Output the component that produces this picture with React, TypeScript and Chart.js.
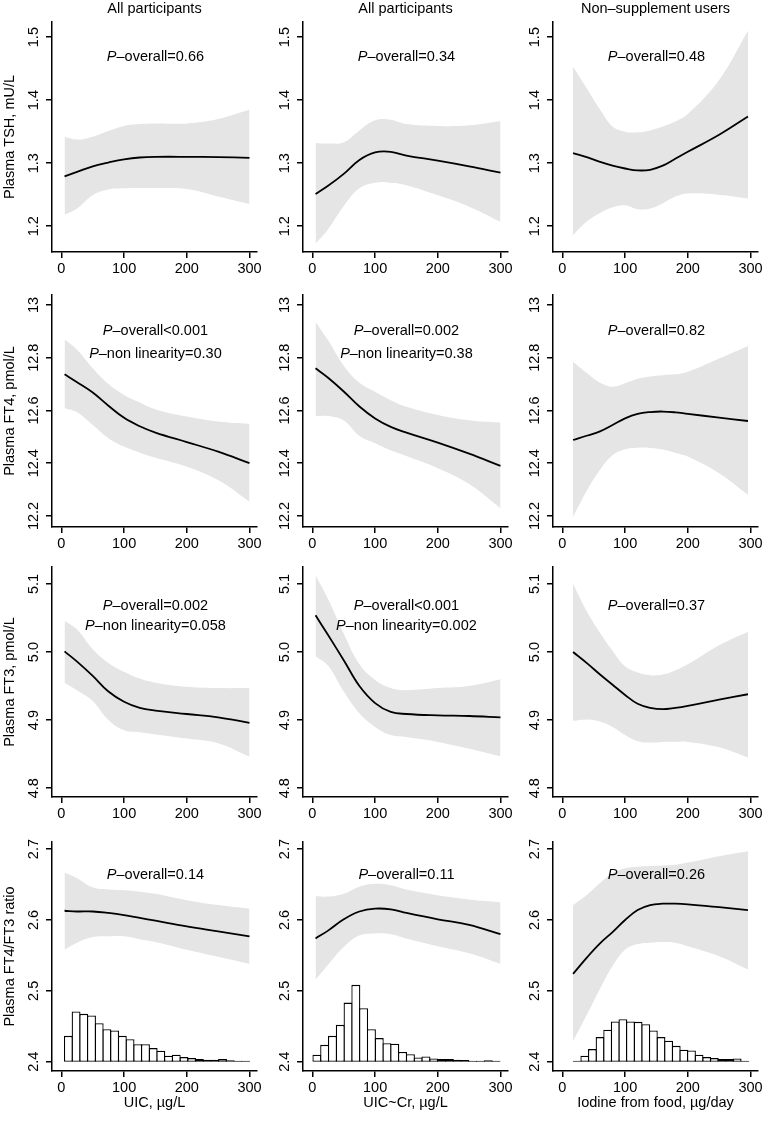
import React, { useEffect, useRef } from 'react';
import { Chart, registerables } from 'chart.js';

Chart.register(...registerables);

const FONT_FAMILY = '"Liberation Sans", Arial, Helvetica, sans-serif';
const FONT_SIZE = 14.5;

// ---------- text ----------
const COLUMN_TITLES = ['All participants', 'All participants', 'Non\u2013supplement users'];
const ROW_TITLES = ['Plasma TSH, mU/L', 'Plasma FT4, pmol/L', 'Plasma FT3, pmol/L', 'Plasma FT4/FT3 ratio'];
const X_TITLES = ['UIC, \u00b5g/L', 'UIC~Cr, \u00b5g/L', 'Iodine from food, \u00b5g/day'];

// ---------- axes ----------
const X_TICKS = [0, 100, 200, 300];
const X_MIN = -15;
const X_MAX = 312;

const Y_TICKS_TSH = [1.2, 1.3, 1.4, 1.5];
const Y_TICKS_FT4 = [12.2, 12.4, 12.6, 12.8, 13];
const Y_TICKS_FT3 = [4.8, 4.9, 5.0, 5.1];
const Y_TICKS_RATIO = [2.4, 2.5, 2.6, 2.7];
const Y_LABELS_TSH = ['1.2', '1.3', '1.4', '1.5'];
const Y_LABELS_FT4 = ['12.2', '12.4', '12.6', '12.8', '13'];
const Y_LABELS_FT3 = ['4.8', '4.9', '5.0', '5.1'];
const Y_LABELS_RATIO = ['2.4', '2.5', '2.6', '2.7'];
const Y_MIN = [1.159, 12.158, 4.787, 2.387];
const Y_MAX = [1.524, 13.038, 5.125, 2.71];

// ---------- exposure grids ----------
const X_UIC = [5, 25, 50, 75, 100, 125, 150, 200, 250, 300];
const X_FOOD = [17, 40, 60, 80, 100, 120, 140, 160, 180, 200, 250, 296];

// ---------- TSH ----------
const TSH_UIC_FIT = [1.279, 1.286, 1.295, 1.301, 1.306, 1.309, 1.31, 1.31, 1.3095, 1.3085];
const TSH_UIC_UPPER = [1.342, 1.3375, 1.342, 1.351, 1.359, 1.362, 1.363, 1.363, 1.37, 1.385];
const TSH_UIC_LOWER = [1.218, 1.228, 1.249, 1.258, 1.26, 1.2605, 1.2605, 1.259, 1.247, 1.235];

const TSH_UICCR_FIT = [1.251, 1.264, 1.283, 1.305, 1.317, 1.318, 1.312, 1.304, 1.295, 1.285];
const TSH_UICCR_UPPER = [1.332, 1.331, 1.333, 1.352, 1.368, 1.369, 1.362, 1.359, 1.36, 1.367];
const TSH_UICCR_LOWER = [1.172, 1.195, 1.232, 1.26, 1.269, 1.269, 1.265, 1.249, 1.231, 1.207];

const TSH_FOOD_FIT = [1.316, 1.309, 1.302, 1.296, 1.2915, 1.2885, 1.2895, 1.296, 1.307, 1.318, 1.345, 1.374];
const TSH_FOOD_UPPER = [1.453, 1.417, 1.385, 1.358, 1.35, 1.349, 1.352, 1.358, 1.366, 1.378, 1.432, 1.51];
const TSH_FOOD_LOWER = [1.186, 1.208, 1.221, 1.23, 1.233, 1.227, 1.228, 1.236, 1.247, 1.252, 1.25, 1.244];

// ---------- FT4 ----------
const FT4_UIC_FIT = [12.737, 12.707, 12.668, 12.618, 12.572, 12.54, 12.516, 12.48, 12.444, 12.4];
const FT4_UIC_UPPER = [12.87, 12.83, 12.76, 12.7, 12.659, 12.63, 12.604, 12.577, 12.558, 12.549];
const FT4_UIC_LOWER = [12.608, 12.593, 12.545, 12.495, 12.463, 12.44, 12.421, 12.387, 12.336, 12.254];

const FT4_UICCR_FIT = [12.76, 12.724, 12.672, 12.615, 12.57, 12.538, 12.516, 12.478, 12.436, 12.39];
const FT4_UICCR_UPPER = [12.937, 12.866, 12.77, 12.705, 12.671, 12.639, 12.614, 12.583, 12.563, 12.554];
const FT4_UICCR_LOWER = [12.579, 12.579, 12.562, 12.503, 12.476, 12.449, 12.427, 12.381, 12.321, 12.229];

const FT4_FOOD_FIT = [12.488, 12.505, 12.521, 12.545, 12.57, 12.587, 12.594, 12.596, 12.593, 12.587, 12.573, 12.56];
const FT4_FOOD_UPPER = [12.785, 12.74, 12.705, 12.69, 12.703, 12.72, 12.729, 12.734, 12.737, 12.747, 12.797, 12.845];
const FT4_FOOD_LOWER = [12.197, 12.3, 12.375, 12.43, 12.453, 12.459, 12.458, 12.452, 12.44, 12.425, 12.362, 12.28];

// ---------- FT3 ----------
const FT3_UIC_FIT = [5.001, 4.986, 4.965, 4.942, 4.927, 4.918, 4.914, 4.909, 4.904, 4.896];
const FT3_UIC_UPPER = [5.046, 5.033, 5.004, 4.984, 4.971, 4.961, 4.955, 4.949, 4.947, 4.947];
const FT3_UIC_LOWER = [4.955, 4.944, 4.928, 4.9, 4.885, 4.882, 4.879, 4.873, 4.866, 4.846];

const FT3_UICCR_FIT = [5.054, 5.025, 4.988, 4.95, 4.925, 4.912, 4.909, 4.907, 4.906, 4.904];
const FT3_UICCR_UPPER = [5.113, 5.078, 5.027, 4.982, 4.959, 4.947, 4.944, 4.947, 4.95, 4.96];
const FT3_UICCR_LOWER = [4.994, 4.98, 4.942, 4.91, 4.89, 4.878, 4.875, 4.868, 4.858, 4.847];

const FT3_FOOD_FIT = [5.0, 4.983, 4.967, 4.952, 4.937, 4.924, 4.918, 4.916, 4.918, 4.921, 4.93, 4.938];
const FT3_FOOD_UPPER = [5.1, 5.058, 5.028, 5.002, 4.979, 4.97, 4.966, 4.967, 4.973, 4.982, 5.01, 5.03];
const FT3_FOOD_LOWER = [4.899, 4.901, 4.898, 4.89, 4.878, 4.869, 4.867, 4.868, 4.868, 4.868, 4.86, 4.845];

// ---------- FT4/FT3 ratio ----------
const RATIO_UIC_FIT = [2.613, 2.612, 2.612, 2.61, 2.607, 2.603, 2.599, 2.591, 2.584, 2.577];
const RATIO_UIC_UPPER = [2.667, 2.659, 2.646, 2.643, 2.642, 2.64, 2.637, 2.628, 2.621, 2.616];
const RATIO_UIC_LOWER = [2.558, 2.568, 2.576, 2.577, 2.577, 2.573, 2.569, 2.558, 2.548, 2.538];

const RATIO_UICCR_FIT = [2.574, 2.585, 2.601, 2.612, 2.616, 2.615, 2.61, 2.601, 2.593, 2.58];
const RATIO_UICCR_UPPER = [2.634, 2.633, 2.637, 2.647, 2.651, 2.649, 2.643, 2.635, 2.629, 2.625];
const RATIO_UICCR_LOWER = [2.516, 2.537, 2.562, 2.578, 2.581, 2.58, 2.574, 2.563, 2.553, 2.538];

const RATIO_FOOD_FIT = [2.524, 2.548, 2.567, 2.583, 2.6, 2.614, 2.621, 2.623, 2.623, 2.622, 2.618, 2.614];
const RATIO_FOOD_UPPER = [2.621, 2.636, 2.652, 2.666, 2.673, 2.675, 2.676, 2.677, 2.678, 2.681, 2.69, 2.697];
const RATIO_FOOD_LOWER = [2.429, 2.468, 2.503, 2.535, 2.558, 2.566, 2.568, 2.569, 2.568, 2.563, 2.549, 2.53];

// ---------- histograms (bar tops on the ratio axis, base 2.4) ----------
const HIST_BASE = 2.4;
const HIST_UIC_X = [11.1, 23.4, 35.7, 48.0, 60.3, 72.6, 84.9, 97.2, 109.5, 121.8, 134.1, 146.4, 158.6, 170.9, 183.2, 195.5, 207.8, 220.1, 232.4, 244.7, 257.0, 269.3, 281.6, 293.9];
const HIST_UIC = [2.4366, 2.4709, 2.4676, 2.4652, 2.4545, 2.446, 2.4441, 2.4366, 2.4319, 2.4249, 2.4249, 2.4193, 2.4155, 2.4085, 2.4099, 2.4066, 2.4052, 2.4038, 2.403, 2.403, 2.404, 2.402, 2.4015, 2.4015];
const HIST_UICCR_X = [7.2, 19.6, 32.0, 44.5, 56.9, 69.3, 81.7, 94.1, 106.6, 119.0, 131.4, 143.8, 156.3, 168.7, 181.1, 193.5, 205.9, 218.4, 230.8, 243.2, 255.6, 268.1, 280.5, 292.9];
const HIST_UICCR = [2.4099, 2.4239, 2.4366, 2.4521, 2.4835, 2.5085, 2.4756, 2.446, 2.4334, 2.4263, 2.4254, 2.4137, 2.4108, 2.4061, 2.4075, 2.4047, 2.4038, 2.4038, 2.403, 2.4024, 2.4015, 2.4015, 2.402, 2.4015];
const HIST_FOOD_X = [23.6, 35.7, 47.9, 60.0, 72.2, 84.3, 96.5, 108.6, 120.8, 133.0, 145.1, 157.3, 169.4, 181.6, 193.7, 205.9, 218.0, 230.2, 242.3, 254.5, 266.7, 278.8, 291.0];
const HIST_FOOD = [2.4015, 2.4085, 2.4179, 2.4348, 2.4451, 2.4568, 2.4601, 2.4568, 2.4563, 2.4531, 2.4441, 2.4348, 2.4296, 2.4225, 2.4169, 2.416, 2.4099, 2.4066, 2.4052, 2.4038, 2.4038, 2.4047, 2.4015];

// ---------- P-value annotations ----------
const ANNOT_X = 150;
const ANNOT_Y_TSH = [1.468];
const ANNOT_Y_FT4 = [12.9, 12.815];
const ANNOT_Y_FT3 = [5.068, 5.038];
const ANNOT_Y_RATIO = [2.663];
const ANNOT_TSH = [['\u2013overall=0.66'], ['\u2013overall=0.34'], ['\u2013overall=0.48']];
const ANNOT_FT4 = [['\u2013overall<0.001', '\u2013non linearity=0.30'], ['\u2013overall=0.002', '\u2013non linearity=0.38'], ['\u2013overall=0.82']];
const ANNOT_FT3 = [['\u2013overall=0.002', '\u2013non linearity=0.058'], ['\u2013overall<0.001', '\u2013non linearity=0.002'], ['\u2013overall=0.37']];
const ANNOT_RATIO = [['\u2013overall=0.14'], ['\u2013overall=0.11'], ['\u2013overall=0.26']];

// ---------- assembled tables ----------
const X_BY_COL = [X_UIC, X_UIC, X_FOOD];
const FITS = [
  [TSH_UIC_FIT, TSH_UICCR_FIT, TSH_FOOD_FIT],
  [FT4_UIC_FIT, FT4_UICCR_FIT, FT4_FOOD_FIT],
  [FT3_UIC_FIT, FT3_UICCR_FIT, FT3_FOOD_FIT],
  [RATIO_UIC_FIT, RATIO_UICCR_FIT, RATIO_FOOD_FIT],
];
const UPPERS = [
  [TSH_UIC_UPPER, TSH_UICCR_UPPER, TSH_FOOD_UPPER],
  [FT4_UIC_UPPER, FT4_UICCR_UPPER, FT4_FOOD_UPPER],
  [FT3_UIC_UPPER, FT3_UICCR_UPPER, FT3_FOOD_UPPER],
  [RATIO_UIC_UPPER, RATIO_UICCR_UPPER, RATIO_FOOD_UPPER],
];
const LOWERS = [
  [TSH_UIC_LOWER, TSH_UICCR_LOWER, TSH_FOOD_LOWER],
  [FT4_UIC_LOWER, FT4_UICCR_LOWER, FT4_FOOD_LOWER],
  [FT3_UIC_LOWER, FT3_UICCR_LOWER, FT3_FOOD_LOWER],
  [RATIO_UIC_LOWER, RATIO_UICCR_LOWER, RATIO_FOOD_LOWER],
];
const HIST_X = [HIST_UIC_X, HIST_UICCR_X, HIST_FOOD_X];
const HIST_Y = [HIST_UIC, HIST_UICCR, HIST_FOOD];
const Y_TICKS = [Y_TICKS_TSH, Y_TICKS_FT4, Y_TICKS_FT3, Y_TICKS_RATIO];
const Y_LABELS = [Y_LABELS_TSH, Y_LABELS_FT4, Y_LABELS_FT3, Y_LABELS_RATIO];
const ANNOT_Y = [ANNOT_Y_TSH, ANNOT_Y_FT4, ANNOT_Y_FT3, ANNOT_Y_RATIO];
const ANNOT_TEXT = [ANNOT_TSH, ANNOT_FT4, ANNOT_FT3, ANNOT_RATIO];

// ---------- layout / style ----------
const COL_LEFT = [0, 251, 501];
const PANEL_W = 263;
const ROW_TOP = [0, 285, 557, 832];
const ROW_H = [282, 272, 270, 290];
const ROW_PAD_TOP = [0, 10, 10, 10];
const X_AXIS_H = [30, 30, 30, 51];
const Y_AXIS_W = 52;
const TICK_LEN = 6;
const Y_LABEL_OFFSET = 18;
const AXIS_W = 1.5;
const LINE_W = 1.8;
const BAND = '#e5e5e5';
const TENSION = 0.4;

const annotPlugin = {
  id: 'pAnnot',
  afterDatasetsDraw(chart: any, _args: any, opts: any) {
    const { ctx, scales } = chart;
    const xs = scales.x;
    const ys = scales.y;
    const normal = `${FONT_SIZE}px ${FONT_FAMILY}`;
    const italic = `italic ${FONT_SIZE}px ${FONT_FAMILY}`;
    ctx.save();
    ctx.fillStyle = '#000';
    ctx.textBaseline = 'middle';
    ctx.textAlign = 'left';
    (opts.lines || []).forEach((line: any) => {
      const cx = xs.getPixelForValue(opts.x);
      const cy = ys.getPixelForValue(line.y);
      ctx.font = italic;
      const wP = ctx.measureText('P').width;
      ctx.font = normal;
      const wR = ctx.measureText(line.text).width;
      const start = cx - (wP + wR) / 2;
      ctx.font = italic;
      ctx.fillText('P', start, cy);
      ctx.font = normal;
      ctx.fillText(line.text, start + wP, cy);
    });
    ctx.restore();
  },
};

function Panel({ r, c }: { r: number; c: number }) {
  const ref = useRef<HTMLCanvasElement>(null);
  useEffect(() => {
    const xs = X_BY_COL[c];
    const pts = (ys: number[]) => xs.map((x, i) => ({ x, y: ys[i] }));
    const datasets: any[] = [
      {
        type: 'line',
        data: pts(FITS[r][c]),
        borderColor: '#000',
        borderWidth: LINE_W,
        pointRadius: 0,
        fill: false,
        tension: TENSION,
      },
      {
        type: 'line',
        data: pts(UPPERS[r][c]),
        borderColor: 'rgba(0,0,0,0)',
        borderWidth: 0,
        backgroundColor: BAND,
        pointRadius: 0,
        fill: '+1',
        tension: TENSION,
      },
      {
        type: 'line',
        data: pts(LOWERS[r][c]),
        borderColor: 'rgba(0,0,0,0)',
        borderWidth: 0,
        pointRadius: 0,
        fill: false,
        tension: TENSION,
      },
    ];
    if (r === 3) {
      datasets.push({
        type: 'bar',
        data: HIST_X[c].map((x, i) => ({ x, y: [HIST_BASE, HIST_Y[c][i]] })),
        backgroundColor: '#fff',
        borderColor: '#000',
        borderWidth: 1.3,
        borderSkipped: false,
        barPercentage: 1.16,
        categoryPercentage: 1,
        inflateAmount: 0,
      });
    }

    const font = { family: FONT_FAMILY, size: FONT_SIZE };
    const mctx = document.createElement('canvas').getContext('2d')!;
    mctx.font = `${FONT_SIZE}px ${FONT_FAMILY}`;
    const widest = Math.max(...Y_LABELS[r].map((l) => mctx.measureText(l).width));
    const yPad = Y_LABEL_OFFSET - TICK_LEN - widest / 2;

    const annotLines = ANNOT_TEXT[r][c].map((text, i) => ({ text, y: ANNOT_Y[r][i] }));

    const chart = new Chart(ref.current!, {
      type: 'line',
      data: { datasets },
      plugins: [annotPlugin],
      options: {
        responsive: true,
        maintainAspectRatio: false,
        animation: false,
        events: [],
        layout: { padding: { top: ROW_PAD_TOP[r], right: PANEL_W - Y_AXIS_W - 205, left: 0, bottom: 0 } },
        plugins: {
          legend: { display: false },
          tooltip: { enabled: false },
          title: {
            display: r === 0,
            text: COLUMN_TITLES[c],
            fullSize: false,
            color: '#000',
            font: { ...font, weight: 'normal' },
            padding: { top: 0.5, bottom: 4.1 },
          },
          pAnnot: { x: ANNOT_X, lines: annotLines },
        } as any,
        scales: {
          x: {
            type: 'linear',
            min: X_MIN,
            max: X_MAX,
            offset: false,
            afterBuildTicks: (s: any) => {
              s.ticks = X_TICKS.map((v) => ({ value: v }));
            },
            afterFit: (s: any) => {
              s.height = X_AXIS_H[r];
              s.paddingLeft = 0;
              s.paddingRight = 0;
            },
            grid: {
              display: true,
              drawOnChartArea: false,
              drawTicks: true,
              tickLength: TICK_LEN,
              color: '#000',
              lineWidth: AXIS_W,
              offset: false,
            },
            border: { display: true, color: '#000', width: AXIS_W },
            ticks: {
              color: '#000',
              font,
              padding: 2,
              autoSkip: false,
              maxRotation: 0,
              minRotation: 0,
              callback: (v: any) => String(v),
            },
            title: {
              display: r === 3,
              text: X_TITLES[c],
              color: '#000',
              font,
              padding: { top: 0, bottom: 10 },
            },
          },
          y: {
            type: 'linear',
            min: Y_MIN[r],
            max: Y_MAX[r],
            afterBuildTicks: (s: any) => {
              s.ticks = Y_TICKS[r].map((v) => ({ value: v }));
            },
            afterFit: (s: any) => {
              s.width = Y_AXIS_W;
              s.paddingTop = 0;
              s.paddingBottom = 0;
            },
            grid: {
              display: true,
              drawOnChartArea: false,
              drawTicks: true,
              tickLength: TICK_LEN,
              color: '#000',
              lineWidth: AXIS_W,
            },
            border: { display: true, color: '#000', width: AXIS_W },
            ticks: {
              color: '#000',
              font,
              padding: yPad,
              autoSkip: false,
              minRotation: 90,
              maxRotation: 90,
              crossAlign: 'center',
              callback: (_v: any, i: number) => Y_LABELS[r][i],
            },
            title: {
              display: c === 0,
              text: ROW_TITLES[r],
              color: '#000',
              font,
              padding: { top: 1, bottom: 0 },
            },
          },
        } as any,
      },
    } as any);
    return () => chart.destroy();
  }, [r, c]);

  return (
    <div
      style={{
        position: 'absolute',
        left: COL_LEFT[c],
        top: ROW_TOP[r],
        width: PANEL_W,
        height: ROW_H[r],
      }}
    >
      <canvas ref={ref} />
    </div>
  );
}

export default function App() {
  const panels = [];
  for (let r = 0; r < 4; r++) {
    for (let c = 0; c < 3; c++) {
      panels.push(<Panel key={`${r}-${c}`} r={r} c={c} />);
    }
  }
  return (
    <div
      style={{
        position: 'absolute',
        left: 0,
        top: 0,
        width: 764,
        height: 1122,
        overflow: 'hidden',
        background: '#fff',
      }}
    >
      {panels}
    </div>
  );
}
